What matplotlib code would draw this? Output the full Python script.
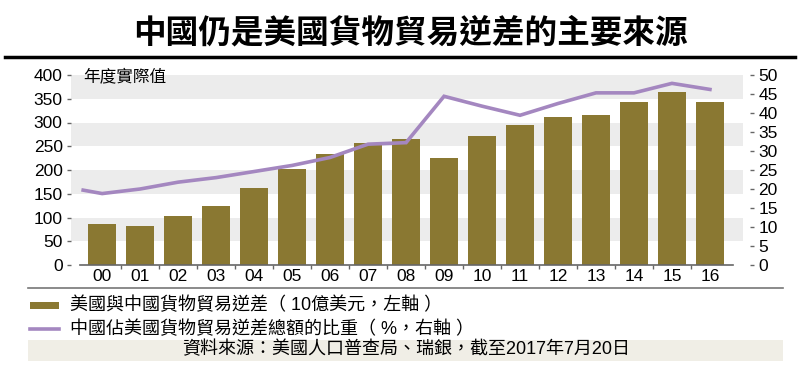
import numpy as np
import matplotlib.pyplot as plt
from matplotlib.patches import Rectangle
from matplotlib.lines import Line2D

plt.rcParams['font.family'] = ['Liberation Sans', 'Noto Sans CJK TC', 'DejaVu Sans']

years = ['00', '01', '02', '03', '04', '05', '06', '07', '08',
         '09', '10', '11', '12', '13', '14', '15', '16']
# US goods trade deficit with China (US$ bn, left axis)
deficit = [86, 83, 103, 124, 163, 202, 233, 257, 266,
           225, 272, 294, 312, 316, 344, 365, 344]
# China's share of total US goods trade deficit (%, right axis)
pct_start = 19.7  # line begins half a slot before 2000
share = [18.8, 20.0, 21.8, 23.0, 24.6, 26.2, 28.3, 31.8, 32.2,
         44.4, 41.8, 39.4, 42.5, 45.3, 45.3, 47.8, 46.2]

left_ticks = [0, 50, 100, 150, 200, 250, 300, 350, 400]
right_ticks = [0, 5, 10, 15, 20, 25, 30, 35, 40, 45, 50]

bar_color = '#8a7832'
line_color = '#a487c0'
band_color = '#ececec'
W, H = 800, 378

fig = plt.figure(figsize=(W / 100, H / 100), dpi=100)
ax = fig.add_axes([71 / W, 1 - 265 / H, 672 / W, 190 / H])

x = np.arange(len(years))
for lo in [50, 150, 250, 350]:
    ax.axhspan(lo, lo + 50, color=band_color, lw=0, zorder=0)
ax.bar(x, deficit, width=0.75, color=bar_color, zorder=2)
ax.set_xlim(-0.82, 16.87)
ax.set_ylim(0, 400)
ax.set_yticks(left_ticks)
ax.set_xticks(x)
ax.set_xticklabels(years)
ax.set_xticks(np.arange(0.5, 16, 1), minor=True)
ax.tick_params(axis='x', which='major', length=0, labelsize=12.5, pad=3)
ax.tick_params(axis='x', which='minor', length=3, color='#666', width=1)
ax.tick_params(axis='y', length=3, color='#666', width=1, labelsize=12.5, pad=3)
for s in ['top', 'left', 'right']:
    ax.spines[s].set_visible(False)
ax.spines['bottom'].set_bounds(-0.58, 16.6)
ax.spines['bottom'].set_color('#666')
ax.spines['bottom'].set_linewidth(1.2)
ax.text(-0.5, 398, '年度實際值', fontsize=12, va='center', ha='left', zorder=3)

ax2 = ax.twinx()
ax2.plot(np.concatenate([[-0.5], x]), [pct_start] + share,
         color=line_color, lw=2.6, solid_joinstyle='miter', zorder=3)
ax2.set_ylim(0, 50)
ax2.set_yticks(right_ticks)
for s in ['top', 'left', 'bottom']:
    ax2.spines[s].set_visible(False)
ax2.spines['right'].set_position(('outward', 5))
ax2.spines['right'].set_visible(False)
ax2.tick_params(axis='y', length=3, color='#666', width=1, labelsize=12.5, pad=3)

# title and rule
fig.text(410 / W, 1 - 33 / H, '中國仍是美國貨物貿易逆差的主要來源',
         fontsize=23.5, fontweight='bold', ha='center', va='center',
         family=['Noto Sans CJK TC'])
fig.add_artist(Line2D([0.006, 0.994], [1 - 57 / H] * 2, color='black', lw=2.5))

# legend
fig.add_artist(Line2D([28 / W, 783 / W], [1 - 288 / H] * 2, color='#777', lw=1.2))
fig.add_artist(Rectangle((30 / W, 1 - 309 / H), 29 / W, 7 / H,
                         color=bar_color, lw=0))
fig.add_artist(Line2D([30 / W, 59 / W], [1 - 329 / H] * 2, color=line_color, lw=2.6))
fig.text(70 / W, 1 - 305 / H, '美國與中國貨物貿易逆差（ 10億美元，左軸 ）',
         fontsize=13, va='center', ha='left')
fig.text(70 / W, 1 - 329 / H, '中國佔美國貨物貿易逆差總額的比重（ %，右軸 ）',
         fontsize=13, va='center', ha='left')

# source footer
fig.add_artist(Rectangle((28 / W, 1 - 361 / H), 755 / W, 21 / H,
                         color='#f0eee6', lw=0))
fig.text(406 / W, 1 - 350 / H, '資料來源：美國人口普查局、瑞銀，截至2017年7月20日',
         fontsize=13, va='center', ha='center')

plt.savefig('out.png', dpi=100)
